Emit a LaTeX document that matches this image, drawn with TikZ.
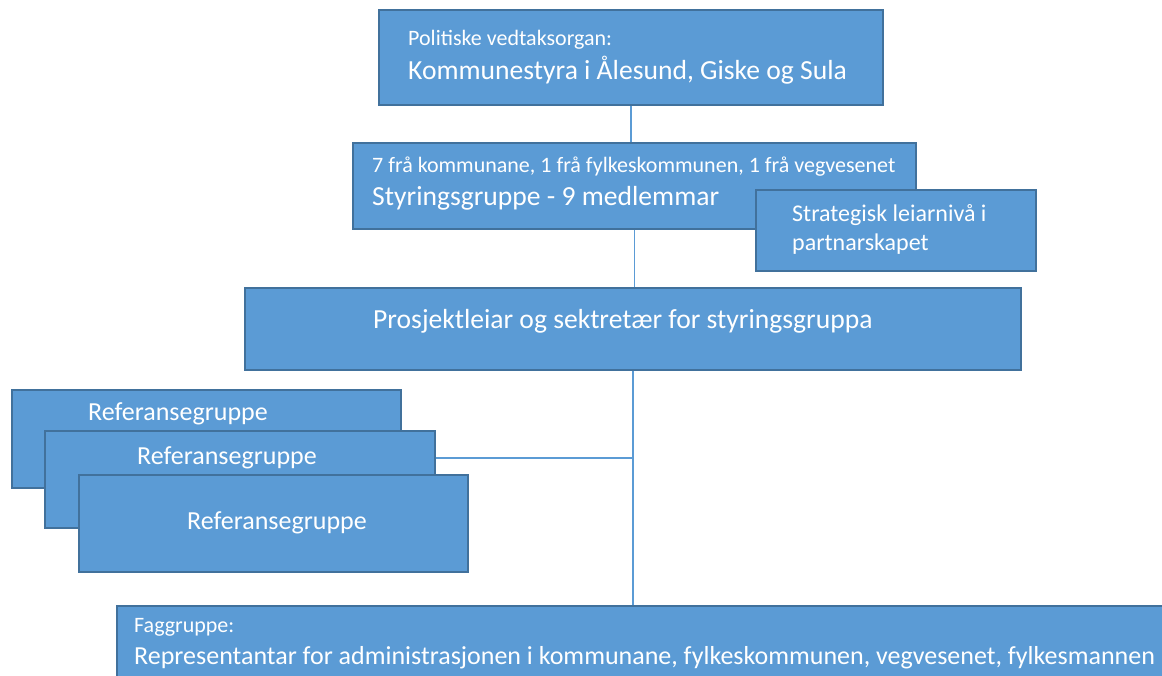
\documentclass[tikz,border=0pt]{standalone}
\usepackage{fontspec}
\setmainfont{Carlito}
\definecolor{boxblue}{HTML}{5B9BD5}
\definecolor{boxedge}{HTML}{41719C}
\definecolor{linkblue}{HTML}{5B9BD5}
\tikzset{
  orgbox/.style={draw=boxedge, fill=boxblue, line width=1.5pt, anchor=north west, inner sep=0pt},
  bigtxt/.style={text=white, inner sep=0pt, anchor=base west, font=\fontsize{27.6}{33}\selectfont},
  reftxt/.style={text=white, inner sep=0pt, anchor=base west, font=\fontsize{26}{31}\selectfont},
  smalltxt/.style={text=white, inner sep=0pt, anchor=base west, font=\fontsize{22}{26}\selectfont},
  midtxt/.style={text=white, inner sep=0pt, anchor=base west, font=\fontsize{24}{29}\selectfont},
  link/.style={draw=linkblue, line width=1.5pt}
}
\begin{document}
\begin{tikzpicture}[x=1pt,y=-1pt]
\useasboundingbox (0,0) rectangle (1162,675);
\node[orgbox, minimum width=504pt, minimum height=95pt] (organ) at (378,9) {};
\node[smalltxt] (organhead) at (408,45) {Politiske vedtaksorgan:};
\node[bigtxt] (organtxt) at (408,79) {Kommunestyra i Ålesund, Giske og Sula};
\node[orgbox, minimum width=563pt, minimum height=86pt] (styr) at (352,142) {};
\node[smalltxt] (styrhead) at (372,172) {7 frå kommunane, 1 frå fylkeskommunen, 1 frå vegvesenet};
\node[bigtxt] (styrtxt) at (372,205) {Styringsgruppe - 9 medlemmar};
\node[orgbox, minimum width=280pt, minimum height=81pt] (strat) at (755,189) {};
\node[midtxt] (strattxta) at (792,221) {Strategisk leiarnivå i};
\node[midtxt] (strattxtb) at (792,250) {partnarskapet};
\node[orgbox, minimum width=776pt, minimum height=82pt] (prosj) at (244,287) {};
\node[bigtxt] (prosjtxt) at (373,328) {Prosjektleiar og sektretær for styringsgruppa};
\node[orgbox, minimum width=389pt, minimum height=98pt] (refa) at (11,389) {};
\node[reftxt] (refatxt) at (88,420) {Referansegruppe};
\node[orgbox, minimum width=390pt, minimum height=97pt] (refb) at (44,430) {};
\node[reftxt] (refbtxt) at (137,464) {Referansegruppe};
\node[orgbox, minimum width=389pt, minimum height=97pt] (refc) at (78,474) {};
\node[reftxt] (refctxt) at (187,529) {Referansegruppe};
\node[orgbox, minimum width=1070pt, minimum height=95pt] (fag) at (116,605) {};
\node[smalltxt] (faghead) at (134,632) {Faggruppe:};
\node[reftxt] (fagtxt) at (134,664) {Representantar for administrasjonen i kommunane, fylkeskommunen, vegvesenet, fylkesmannen};
\coordinate (refjoin) at (636,458);
\draw[link] (organ.south) -- (organ.south |- styr.north);
\draw[link] (styr.south) -- (styr.south |- prosj.north);
\draw[link] (prosj.south) -- (prosj.south |- fag.north);
\draw[link] (refjoin -| refb.east) -- (refjoin -| prosj.south);
\end{tikzpicture}
\end{document}
